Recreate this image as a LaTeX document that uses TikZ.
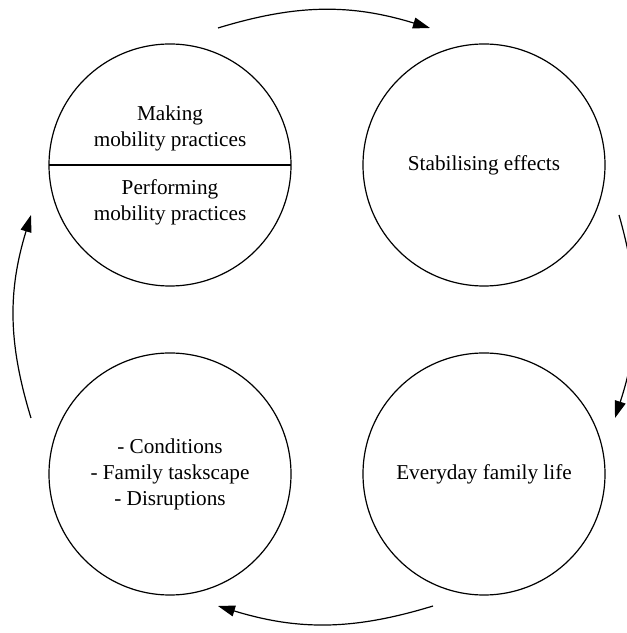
\documentclass[tikz,border=0pt]{standalone}
\usepackage{fontspec}
\setmainfont{Liberation Serif}
\usetikzlibrary{arrows.meta}

\begin{document}
\begin{tikzpicture}[x=0.5pt, y=0.5pt, line width=0.6pt,
    phase/.style={circle, draw, minimum size=121pt, inner sep=0pt, outer sep=0pt},
    txt/.style={align=center, font=\fontsize{10.6}{13}\selectfont},
    loopy/.style={-{Triangle[length=8.5pt, width=5.5pt]}, bend left=17}]
    \useasboundingbox (0,0) rectangle (627,633);

    \node[phase] (mob) at (170, 468) {};
    \node[phase, txt] (stab) at (484, 468) {Stabilising effects};
    \node[phase, txt] (life) at (484, 159) {Everyday family life};
    \node[phase, txt] (cond) at (170, 159) {- Conditions\\- Family taskscape\\- Disruptions};

    \node[txt] (making) at (170, 505) {Making\\mobility practices};
    \node[txt] (perform) at (170, 431) {Performing\\mobility practices};
    \draw (mob.west) -- (mob.east);

    \coordinate (a1) at (218, 605);
    \coordinate (a2) at (430, 605);
    \coordinate (b1) at (619, 418);
    \coordinate (b2) at (615, 215);
    \coordinate (c1) at (433, 27);
    \coordinate (c2) at (218, 27);
    \coordinate (d1) at (31, 215);
    \coordinate (d2) at (31, 418);

    \draw[loopy] (a1) to (a2);
    \draw[loopy] (b1) to (b2);
    \draw[loopy] (c1) to (c2);
    \draw[loopy] (d1) to (d2);
\end{tikzpicture}
\end{document}
